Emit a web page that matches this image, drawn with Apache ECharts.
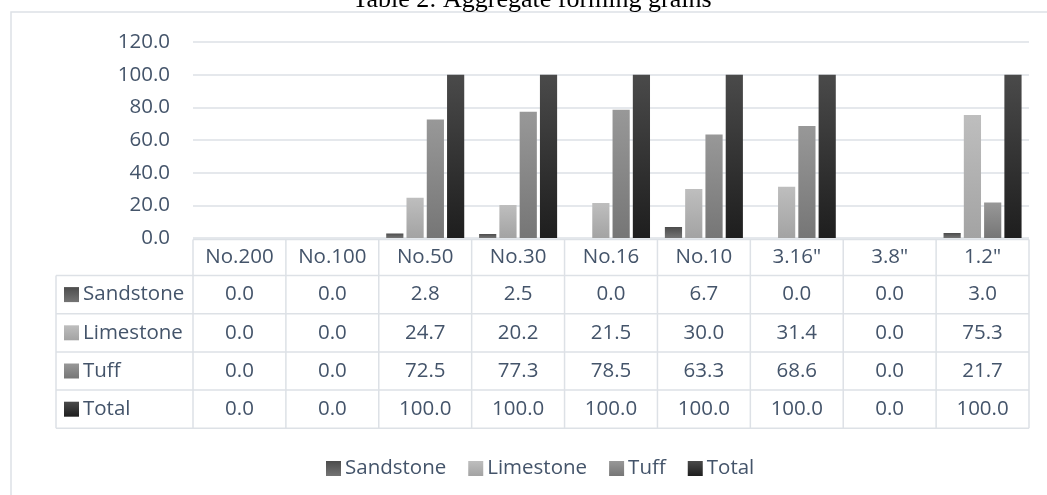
<!DOCTYPE html>
<html>
<head>
<meta charset="utf-8">
<title>Aggregate forming grains</title>
<script src="https://cdn.jsdelivr.net/npm/echarts@6/dist/echarts.min.js"></script>
<style>
    html, body { margin: 0; padding: 0; background: #fff; }
    #chart { width: 1047px; height: 495px; }
</style>
</head>
<body>
<div id="chart"></div>
<script type="text/javascript">
    // sieve sizes
    var categories = ['No.200', 'No.100', 'No.50', 'No.30', 'No.16', 'No.10', '3.16"', '3.8"', '1.2"'];
    var sandstone = [0.0, 0.0, 2.8, 2.5, 0.0, 6.7, 0.0, 0.0, 3.0];
    var limestone = [0.0, 0.0, 24.7, 20.2, 21.5, 30.0, 31.4, 0.0, 75.3];
    var tuff      = [0.0, 0.0, 72.5, 77.3, 78.5, 63.3, 68.6, 0.0, 21.7];
    var total     = [0.0, 0.0, 100.0, 100.0, 100.0, 100.0, 100.0, 0.0, 100.0];
    var seriesNames = ['Sandstone', 'Limestone', 'Tuff', 'Total'];
    var yTicks = [0, 20, 40, 60, 80, 100, 120];

    var textColor = '#44546a';
    var lineColor = '#dde1e6';
    var font = '"Open Sans"';
    var fontSize = 20.5;

    function grad(top, bottom) {
        return new echarts.graphic.LinearGradient(0, 0, 0, 1, [
            {offset: 0, color: top},
            {offset: 1, color: bottom}
        ]);
    }
    var colors = [
        grad('#4c4c4c', '#747474'),
        grad('#bebebe', '#a3a3a3'),
        grad('#989898', '#767676'),
        grad('#4a4a4a', '#1e1e1e')
    ];
    var values = [sandstone, limestone, tuff, total];

    var myChart = echarts.init(document.getElementById('chart'));
    var option = {
        animation: false,
        textStyle: {fontFamily: font},
        grid: {left: 193, right: 18, top: 42, bottom: 257},
        legend: {
            data: seriesNames,
            left: 321,
            top: 453,
            icon: 'rect',
            itemWidth: 15,
            itemHeight: 15,
            itemGap: 22,
            textStyle: {color: textColor, fontSize: fontSize, fontFamily: font, padding: [0, 0, 0, -1]}
        },
        xAxis: {
            type: 'category',
            data: categories,
            axisLine: {show: false},
            axisTick: {show: false},
            axisLabel: {color: textColor, fontSize: fontSize, fontFamily: font, margin: 19, verticalAlign: 'middle', interval: 0}
        },
        yAxis: {
            type: 'value',
            min: yTicks[0],
            max: yTicks[yTicks.length - 1],
            interval: 20,
            axisLine: {show: false},
            axisTick: {show: false},
            axisLabel: {
                color: textColor, fontSize: fontSize, fontFamily: font, margin: 23,
                formatter: function (v) { return v.toFixed(1); }
            },
            splitLine: {lineStyle: {color: lineColor, width: 1.5}}
        },
        series: seriesNames.map(function (name, i) {
            return {
                name: name,
                type: 'bar',
                data: values[i],
                barCategoryGap: '16%',
                barGap: '18%',
                itemStyle: {color: colors[i]}
            };
        })
    };
    myChart.setOption(option);

    // data table under the plot, aligned with the category axis
    var els = [];
    var y0 = myChart.convertToPixel({yAxisIndex: 0}, 0) + 1.5;
    var c0 = myChart.convertToPixel({xAxisIndex: 0}, 0);
    var c1 = myChart.convertToPixel({xAxisIndex: 0}, 1);
    var band = c1 - c0;
    var xl = c0 - band / 2;
    var xr = myChart.convertToPixel({xAxisIndex: 0}, categories.length - 1) + band / 2;
    var headH = 36, rowH = 38.2, labelLeft = 56;
    var rowTop = y0 + headH;

    function line(x1, y1, x2, y2) {
        els.push({type: 'line', silent: true, shape: {x1: x1, y1: y1, x2: x2, y2: y2},
            style: {stroke: lineColor, lineWidth: 1.5}});
    }
    function text(str, x, y, align) {
        els.push({type: 'text', silent: true, x: x, y: y,
            style: {text: str, fill: textColor, font: fontSize + 'px ' + font,
                textAlign: align, textVerticalAlign: 'middle', align: align, verticalAlign: 'middle'}});
    }

    // outer chart frame
    els.push({type: 'rect', silent: true, shape: {x: 11, y: 12, width: 1100, height: 600},
        style: {fill: null, stroke: lineColor, lineWidth: 1.5}});

    // horizontal lines
    line(xl, y0, xr, y0);
    for (var r = 0; r <= seriesNames.length; r++) {
        line(labelLeft, rowTop + r * rowH, xr, rowTop + r * rowH);
    }
    // vertical lines
    line(labelLeft, rowTop, labelLeft, rowTop + seriesNames.length * rowH);
    for (var c = 0; c <= categories.length; c++) {
        line(xl + c * band, y0, xl + c * band, rowTop + seriesNames.length * rowH);
    }
    // row labels with keys and the values
    for (var s = 0; s < seriesNames.length; s++) {
        var cy = rowTop + s * rowH + rowH / 2;
        els.push({type: 'rect', silent: true, shape: {x: 64, y: cy - 7.5, width: 15, height: 15},
            style: {fill: colors[s]}});
        text(seriesNames[s], 83, cy, 'left');
        for (var k = 0; k < categories.length; k++) {
            var cx = myChart.convertToPixel({xAxisIndex: 0}, k);
            text(values[s][k].toFixed(1), cx, cy, 'center');
        }
    }
    // title, clipped at the top edge as in the source
    els.push({type: 'text', silent: true, x: 532, y: 0,
        style: {text: 'Table 2: Aggregate forming grains', fill: '#000',
            font: '26px "Liberation Serif"', textAlign: 'center', textVerticalAlign: 'middle',
            align: 'center', verticalAlign: 'middle'}});

    myChart.setOption({graphic: els});
</script>
</body>
</html>
